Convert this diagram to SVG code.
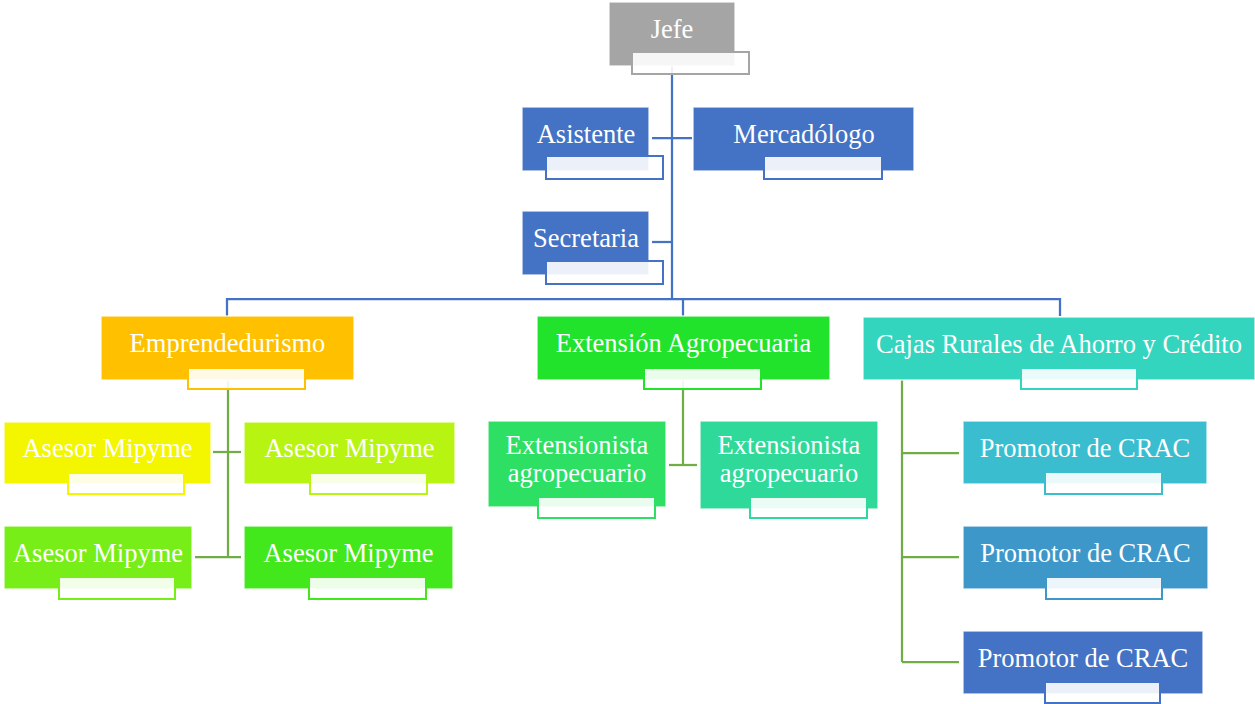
<svg xmlns="http://www.w3.org/2000/svg" width="1255" height="704" viewBox="0 0 1255 704">
  <style>
    .box { stroke: #ffffff; stroke-opacity: 0.75; stroke-width: 1.5; }
    .tag { fill: #ffffff; fill-opacity: 0.9; stroke-width: 2; }
    .lbl { font-family: "Liberation Serif", "Times New Roman", serif; font-size: 26.5px; fill: #ffffff; text-anchor: middle; }
    .blue { stroke: #4472C4; stroke-width: 2.25; fill: none; }
    .green { stroke: #70AD47; stroke-width: 2.25; fill: none; }
  </style>
  <rect width="1255" height="704" fill="#ffffff"/>

  <g id="connectors">
    <!-- top level trunk -->
    <path class="blue" d="M672 60 V299"/>
    <path class="blue" d="M652 138 H692"/>
    <path class="blue" d="M652 242 H672"/>
    <path class="blue" d="M227 316 V299 H1060 V316"/>
    <path class="blue" d="M683 299 V316"/>
    <!-- Emprendedurismo branch -->
    <path class="green" d="M228 380 V557"/>
    <path class="green" d="M213 452 H241"/>
    <path class="green" d="M195 557 H241"/>
    <!-- Extension branch -->
    <path class="green" d="M683 380 V465"/>
    <path class="green" d="M669 465 H697"/>
    <!-- Cajas branch -->
    <path class="green" d="M902 380 V662"/>
    <path class="green" d="M902 453 H959"/>
    <path class="green" d="M902 557 H959"/>
    <path class="green" d="M902 662 H959"/>
  </g>

  <g id="jefe">
    <rect class="box" x="609" y="2" width="126" height="64" fill="#A5A5A5"/>
    <rect class="tag" x="632" y="52" width="117" height="22" stroke="#A5A5A5"/>
    <text class="lbl" x="672" y="38">Jefe</text>
  </g>

  <g id="asistente">
    <rect class="box" x="522" y="107" width="127" height="64" fill="#4472C4"/>
    <rect class="tag" x="546" y="156" width="117" height="23" stroke="#4472C4"/>
    <text class="lbl" x="586" y="143">Asistente</text>
  </g>

  <g id="mercadologo">
    <rect class="box" x="693" y="107" width="221" height="64" fill="#4472C4"/>
    <rect class="tag" x="764" y="156" width="118" height="23" stroke="#4472C4"/>
    <text class="lbl" x="804" y="143">Mercadólogo</text>
  </g>

  <g id="secretaria">
    <rect class="box" x="522" y="211" width="127" height="64" fill="#4472C4"/>
    <rect class="tag" x="546" y="261" width="117" height="23" stroke="#4472C4"/>
    <text class="lbl" x="586" y="247">Secretaria</text>
  </g>

  <g id="emprendedurismo">
    <rect class="box" x="101" y="316" width="253" height="64" fill="#FFC000"/>
    <rect class="tag" x="188" y="368" width="117" height="21" stroke="#FFC000"/>
    <text class="lbl" x="227.5" y="352">Emprendedurismo</text>
  </g>

  <g id="extension-agropecuaria">
    <rect class="box" x="537" y="316" width="293" height="64" fill="#21E32C"/>
    <rect class="tag" x="644" y="368" width="117" height="21" stroke="#21E32C"/>
    <text class="lbl" x="683.5" y="352">Extensión Agropecuaria</text>
  </g>

  <g id="cajas-rurales">
    <rect class="box" x="863" y="317" width="392" height="63" fill="#34D5BE"/>
    <rect class="tag" x="1021" y="368" width="116" height="21" stroke="#34D5BE"/>
    <text class="lbl" x="1059" y="353">Cajas Rurales de Ahorro y Crédito</text>
  </g>

  <g id="asesor-1">
    <rect class="box" x="4" y="422" width="207" height="62" fill="#F4F600"/>
    <rect class="tag" x="68" y="473" width="116" height="21" stroke="#F4F600"/>
    <text class="lbl" x="107.5" y="457">Asesor Mipyme</text>
  </g>

  <g id="asesor-2">
    <rect class="box" x="244" y="422" width="211" height="62" fill="#B8F412"/>
    <rect class="tag" x="310" y="473" width="117" height="21" stroke="#B8F412"/>
    <text class="lbl" x="349.5" y="457">Asesor Mipyme</text>
  </g>

  <g id="asesor-3">
    <rect class="box" x="4" y="526" width="188" height="63" fill="#78EE18"/>
    <rect class="tag" x="59" y="577" width="116" height="22" stroke="#78EE18"/>
    <text class="lbl" x="98" y="562">Asesor Mipyme</text>
  </g>

  <g id="asesor-4">
    <rect class="box" x="244" y="526" width="209" height="63" fill="#42E81C"/>
    <rect class="tag" x="309" y="577" width="117" height="22" stroke="#42E81C"/>
    <text class="lbl" x="348.5" y="562">Asesor Mipyme</text>
  </g>

  <g id="extensionista-1">
    <rect class="box" x="488" y="421" width="178" height="86" fill="#2DDF63"/>
    <rect class="tag" x="538" y="497" width="117" height="21" stroke="#2DDF63"/>
    <text class="lbl" x="577" y="454">Extensionista</text>
    <text class="lbl" x="577" y="482">agropecuario</text>
  </g>

  <g id="extensionista-2">
    <rect class="box" x="700" y="421" width="178" height="88" fill="#2FD999"/>
    <rect class="tag" x="750" y="497" width="117" height="21" stroke="#2FD999"/>
    <text class="lbl" x="789" y="454">Extensionista</text>
    <text class="lbl" x="789" y="482">agropecuario</text>
  </g>

  <g id="promotor-1">
    <rect class="box" x="963" y="421" width="244" height="63" fill="#3ABDCF"/>
    <rect class="tag" x="1045" y="472" width="117" height="22" stroke="#3ABDCF"/>
    <text class="lbl" x="1085" y="457">Promotor de CRAC</text>
  </g>

  <g id="promotor-2">
    <rect class="box" x="963" y="526" width="245" height="63" fill="#3E97C9"/>
    <rect class="tag" x="1046" y="577" width="116" height="22" stroke="#3E97C9"/>
    <text class="lbl" x="1085.5" y="562">Promotor de CRAC</text>
  </g>

  <g id="promotor-3">
    <rect class="box" x="963" y="631" width="240" height="63" fill="#4472C4"/>
    <rect class="tag" x="1045" y="682" width="115" height="21" stroke="#4472C4"/>
    <text class="lbl" x="1083" y="667">Promotor de CRAC</text>
  </g>
</svg>
